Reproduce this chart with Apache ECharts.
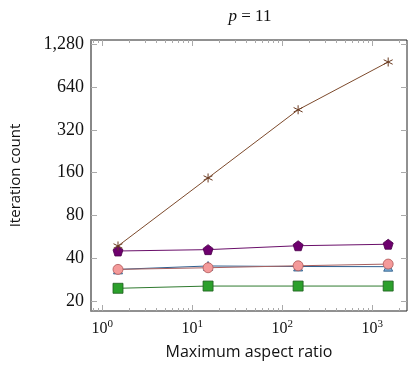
<!DOCTYPE html>
<html><head><meta charset="utf-8">
<script src="https://cdn.jsdelivr.net/npm/echarts@6/dist/echarts.min.js"></script>
<style>html,body{margin:0;padding:0;background:#fff}#c{width:415px;height:370px}</style>
</head><body><div id="c"></div>
<script>
const aspectRatios = [1.5, 15, 150, 1500];
const seriesBlue   = [33.3, 35.2, 34.9, 34.8];
const seriesPink   = [33.3, 34.2, 35.3, 36.3];
const seriesGreen  = [24.5, 25.4, 25.4, 25.4];
const seriesPurple = [44.9, 45.9, 48.9, 50.1];
const seriesBrown  = [48.7, 147, 445, 967];
const yTicks = [20, 40, 80, 160, 320, 640, 1280];
const xTicks = [1, 10, 100, 1000];
const xMinorTicks = [0.8, 0.9, 2,3,4,5,6,7,8,9, 20,30,40,50,60,70,80,90, 200,300,400,500,600,700,800,900, 2000];
const xName = 'Maximum aspect ratio';
const yName = 'Iteration count';

const pair = ys => aspectRatios.map((x, i) => [x, ys[i]]);
const XMIN = 0.752, XMAX = 2427, YMIN = 16.94, YMAX = 1382;
const serif = 'Liberation Serif';
const sans = 'Open Sans';

function xAx(pos, custom, len, labels) {
  return {
    type: 'log', logBase: 10, min: XMIN, max: XMAX, position: pos,
    axisLine: { show: false },
    splitLine: { show: false },
    axisTick: { show: true, inside: true, length: len, customValues: custom, lineStyle: { color: '#aaa', width: 1 } },
    axisLabel: labels ? {
      show: true, customValues: xTicks, margin: 8,
      formatter: v => '{b|10}{s|' + Math.round(Math.log10(v)) + '}',
      rich: { b: { fontFamily: serif, fontSize: 16, color: '#111' },
              s: { fontFamily: serif, fontSize: 11, color: '#111', padding: [0, 0, 9, 0] } }
    } : { show: false }
  };
}
function yAx(pos, labels) {
  return {
    type: 'log', logBase: 2, min: YMIN, max: YMAX, position: pos,
    axisLine: pos === 'left' ? { show: true, lineStyle: { color: '#888', width: 2 } } : { show: false },
    splitLine: { show: false },
    axisTick: { show: true, inside: true, length: 6, customValues: yTicks, lineStyle: { color: '#aaa', width: 1 } },
    axisLabel: labels ? {
      show: true, customValues: yTicks, margin: 7,
      fontFamily: serif, fontSize: 18, color: '#111',
      formatter: v => Math.round(v).toLocaleString('en-US')
    } : { show: false }
  };
}

const pentagon = 'path://M0,-1L0.951,-0.309L0.588,0.809L-0.588,0.809L-0.951,-0.309Z';
const star = 'path://M0,-5L0,5M-4.33,-2.5L4.33,2.5M-4.33,2.5L4.33,-2.5';

function ser(name, ys, color, symbol, size, fill, border, bw) {
  return {
    name, type: 'line', data: pair(ys), xAxisIndex: 0, yAxisIndex: 0,
    symbol, symbolSize: size, showSymbol: true,
    lineStyle: { color, width: 1 },
    itemStyle: { color: fill, borderColor: border, borderWidth: bw, opacity: 1 },
    emphasis: { disabled: true }, animation: false
  };
}

const chart = echarts.init(document.getElementById('c'), null, { renderer: 'canvas' });
chart.setOption({
  animation: false,
  backgroundColor: '#fff',
  title: {
    text: '{i|p} = 11', left: 245, top: 3, textAlign: 'center',
    textStyle: { fontFamily: serif, fontSize: 17, fontWeight: 'normal', color: '#111',
      rich: { i: { fontFamily: serif, fontStyle: 'italic', fontSize: 17, color: '#111' } } }
  },
  grid: { left: 87, top: 40, right: 8, bottom: 59, show: true, borderColor: '#222', borderWidth: 1, backgroundColor: 'transparent' },
  xAxis: [
    Object.assign(xAx('bottom', xTicks, 6, true), { name: xName, nameLocation: 'middle', nameGap: 33,
      nameTextStyle: { fontFamily: sans, fontSize: 16, color: '#111' } }),
    xAx('bottom', xMinorTicks, 3, false),
    xAx('top', xTicks, 6, false),
    xAx('top', xMinorTicks, 3, false)
  ],
  yAxis: [
    Object.assign(yAx('left', true), { name: yName, nameLocation: 'middle', nameGap: 68,
      nameTextStyle: { fontFamily: sans, fontSize: 15, color: '#111' } }),
    yAx('right', false)
  ],
  series: [
    ser('blue', seriesBlue, '#2f5f8f', 'triangle', 9, '#7ab0d8', '#1f4f7f', 0.8),
    ser('pink', seriesPink, '#a86060', 'circle', 10, '#f49a9a', '#b05858', 0.8),
    ser('green', seriesGreen, '#2f7a2f', 'rect', 10, '#2ca02c', '#1d5d1d', 0.8),
    ser('purple', seriesPurple, '#6a0f6a', pentagon, 10, '#6e006e', '#4a004a', 0.8),
    ser('brown', seriesBrown, '#7d4a2c', star, 9, '#7d4a2c', '#6a3a20', 1)
  ]
});
</script></body></html>
